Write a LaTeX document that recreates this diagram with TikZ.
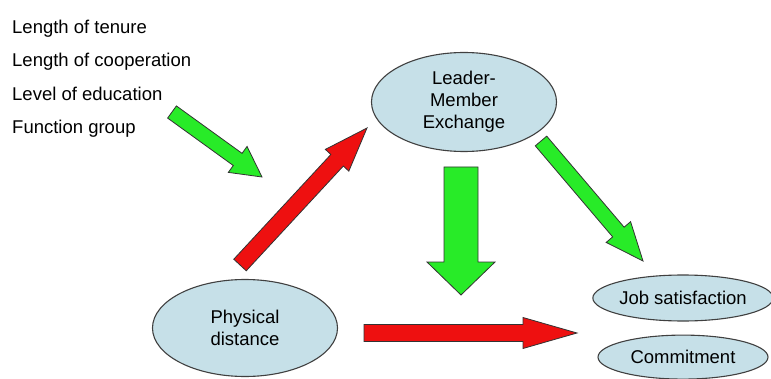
\documentclass[tikz,border=0pt]{standalone}
\usepackage{fontspec}
\setmainfont{Liberation Sans}
\usetikzlibrary{shapes.geometric, positioning, calc}

\definecolor{boxblue}{RGB}{198,224,232}
\definecolor{okgreen}{RGB}{40,235,40}
\definecolor{badred}{RGB}{238,16,16}

% block arrow: style, from, to, shaft half width, head half width, head length
\newcommand{\blockarrow}[6]{%
  \coordinate (tmp) at ($(#3)!#6!(#2)$);
  \draw[#1] ($(#2)!#4!90:(#3)$) -- ($(tmp)!#4!90:(#3)$) -- ($(tmp)!#5!90:(#3)$)
    -- (#3) -- ($(tmp)!#5!-90:(#3)$) -- ($(tmp)!#4!-90:(#3)$) -- ($(#2)!#4!-90:(#3)$) -- cycle;
}

\begin{document}
\begin{tikzpicture}[
  x=1pt, y=1pt,
  every node/.style={font=\fontsize{18.5}{22}\selectfont},
  factor/.style={anchor=west, inner sep=0pt, text height=13pt, text depth=4pt},
  construct/.style={ellipse, draw=black!75, line width=1.1pt, fill=boxblue, inner sep=0pt, align=center},
  good/.style={draw=black!80, line width=0.8pt, fill=okgreen},
  bad/.style={draw=black!80, line width=0.8pt, fill=badred}
]
\useasboundingbox (0,0) rectangle (771,378);

% antecedents
\node[factor] (tenure) at (12,349) {Length of tenure};
\node[factor, below=16pt of tenure.south west, anchor=north west] (coop) {Length of cooperation};
\node[factor, below=16pt of coop.south west, anchor=north west] (edu) {Level of education};
\node[factor, below=16pt of edu.south west, anchor=north west] (func) {Function group};

% constructs
\node[construct, minimum width=185pt, minimum height=99pt] (lmx) at (464,276) {Leader-\\Member\\Exchange};
\node[construct, minimum width=185pt, minimum height=97pt] (phys) at (245,50) {Physical\\distance};
\node[construct, minimum width=170pt, minimum height=46pt] (job) at (683,80) {Job satisfaction};
\node[construct, minimum width=170pt, minimum height=44pt, below=13pt of job] (commit) {Commitment};

% arrow ends
\coordinate (fac-out) at (172,266);
\coordinate (fac-in) at (262,201);
\coordinate (phys-out) at (240,113);
\coordinate (lmx-in) at (367,250);
\coordinate (lmx-down) at (461,211);
\coordinate (mid-in) at (461,83);
\coordinate (lmx-out) at (541,237);
\coordinate (job-in) at (643,117);
\coordinate (phys-right) at (364,45);
\coordinate (out-in) at (577,45);

\blockarrow{good}{fac-out}{fac-in}{7.5pt}{16pt}{30pt}
\blockarrow{bad}{phys-out}{lmx-in}{8.5pt}{16pt}{44pt}
\blockarrow{good}{lmx-down}{mid-in}{17pt}{34pt}{33pt}
\blockarrow{good}{lmx-out}{job-in}{7.5pt}{16pt}{38pt}
\blockarrow{bad}{phys-right}{out-in}{8.5pt}{15.5pt}{54pt}
\end{tikzpicture}
\end{document}
